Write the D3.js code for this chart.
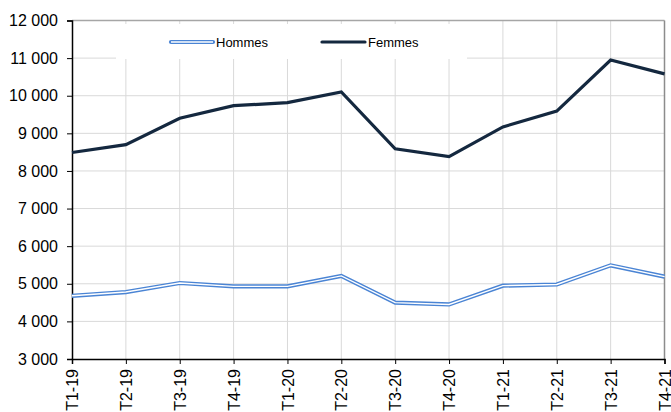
<!DOCTYPE html>
<html><head><meta charset="utf-8">
<script src="https://cdn.jsdelivr.net/npm/d3@7"></script>
<style>body{margin:0;background:#fff}svg{display:block;font-family:"Liberation Sans",Arial,sans-serif}</style>
</head><body>
<svg id="c" width="671" height="412"></svg>
<script>
const categories = ["T1-19","T2-19","T3-19","T4-19","T1-20","T2-20","T3-20","T4-20","T1-21","T2-21","T3-21","T4-21"];
const hommes = [4680,4780,5020,4930,4930,5210,4500,4450,4950,4980,5490,5190];
const femmes = [8490,8700,9400,9735,9815,10100,8590,8380,9170,9590,10950,10580];
const yTicks = [3000,4000,5000,6000,7000,8000,9000,10000,11000,12000];

const L=72, R=664.5, T=20.5, B=359;
const svg=d3.select("#c");
const x=d3.scalePoint().domain(categories).range([L,R]);
const y=d3.scaleLinear().domain([3000,12000]).range([B,T]);
const fmt=v=>d3.format(",")(v).replace(/,/g," ");

// grid
svg.append("g").selectAll("line").data(yTicks.slice(1,-1)).join("line")
  .attr("x1",L).attr("x2",R).attr("y1",d=>y(d)).attr("y2",d=>y(d))
  .attr("stroke","#d9d9d9").attr("stroke-width",1);
svg.append("g").selectAll("line").data(categories.slice(1,-1)).join("line")
  .attr("x1",d=>x(d)).attr("x2",d=>x(d)).attr("y1",T).attr("y2",B)
  .attr("stroke","#d9d9d9").attr("stroke-width",1);
// border top/right
svg.append("line").attr("x1",L).attr("x2",R).attr("y1",T).attr("y2",T).attr("stroke","#a6a6a6").attr("stroke-width",1.5);
svg.append("line").attr("x1",R).attr("x2",R).attr("y1",T).attr("y2",B).attr("stroke","#8c8c8c").attr("stroke-width",1.5);

// legend box
svg.append("rect").attr("x",116).attr("y",24).attr("width",351).attr("height",35).attr("fill","#fff");

// axes
const yAxis=d3.axisLeft(y).tickValues(yTicks).tickFormat(fmt).tickSize(5).tickPadding(9);
const gy=svg.append("g").attr("transform",`translate(${L},0)`).call(yAxis);
gy.select(".domain").attr("stroke","#000").attr("stroke-width",1.5);
gy.selectAll(".tick line").attr("stroke","#000");
gy.selectAll("text").attr("font-size",16).attr("fill","#000").attr("font-family","Liberation Sans, Arial, sans-serif");

const xAxis=d3.axisBottom(x).tickSize(5).tickPadding(3);
const gx=svg.append("g").attr("transform",`translate(0,${B})`).call(xAxis);
gx.select(".domain").attr("stroke","#000").attr("stroke-width",1.5);
gx.selectAll(".tick line").attr("stroke","#000");
gx.selectAll("text").attr("font-size",16).attr("fill","#000").attr("font-family","Liberation Sans, Arial, sans-serif")
  .attr("transform","rotate(-90)").attr("text-anchor","end").attr("dy","0.35em").attr("x",-10).attr("y",0);

const line=d3.line().x((d,i)=>x(categories[i])).y(d=>y(d));
// Hommes: double line
svg.append("path").datum(hommes).attr("d",line).attr("fill","none").attr("stroke","#4a84d4").attr("stroke-width",4.2).attr("stroke-linejoin","miter");
svg.append("path").datum(hommes).attr("d",line).attr("fill","none").attr("stroke","#fff").attr("stroke-width",1.4).attr("stroke-linejoin","miter");
// Femmes
svg.append("path").datum(femmes).attr("d",line).attr("fill","none").attr("stroke","#14283f").attr("stroke-width",3.2).attr("stroke-linejoin","miter");

// legend
const lg=svg.append("g");
lg.append("line").attr("x1",171).attr("x2",213).attr("y1",42).attr("y2",42).attr("stroke","#4a84d4").attr("stroke-width",4.2).attr("stroke-linecap","round");
lg.append("line").attr("x1",171).attr("x2",213).attr("y1",42).attr("y2",42).attr("stroke","#fff").attr("stroke-width",1.4);
lg.append("text").attr("x",216).attr("y",42).attr("dy","0.35em").attr("font-size",13).text("Hommes");
lg.append("line").attr("x1",322).attr("x2",365).attr("y1",42).attr("y2",42).attr("stroke","#14283f").attr("stroke-width",3.2).attr("stroke-linecap","round");
lg.append("text").attr("x",368).attr("y",42).attr("dy","0.35em").attr("font-size",13).text("Femmes");
</script>
</body></html>
